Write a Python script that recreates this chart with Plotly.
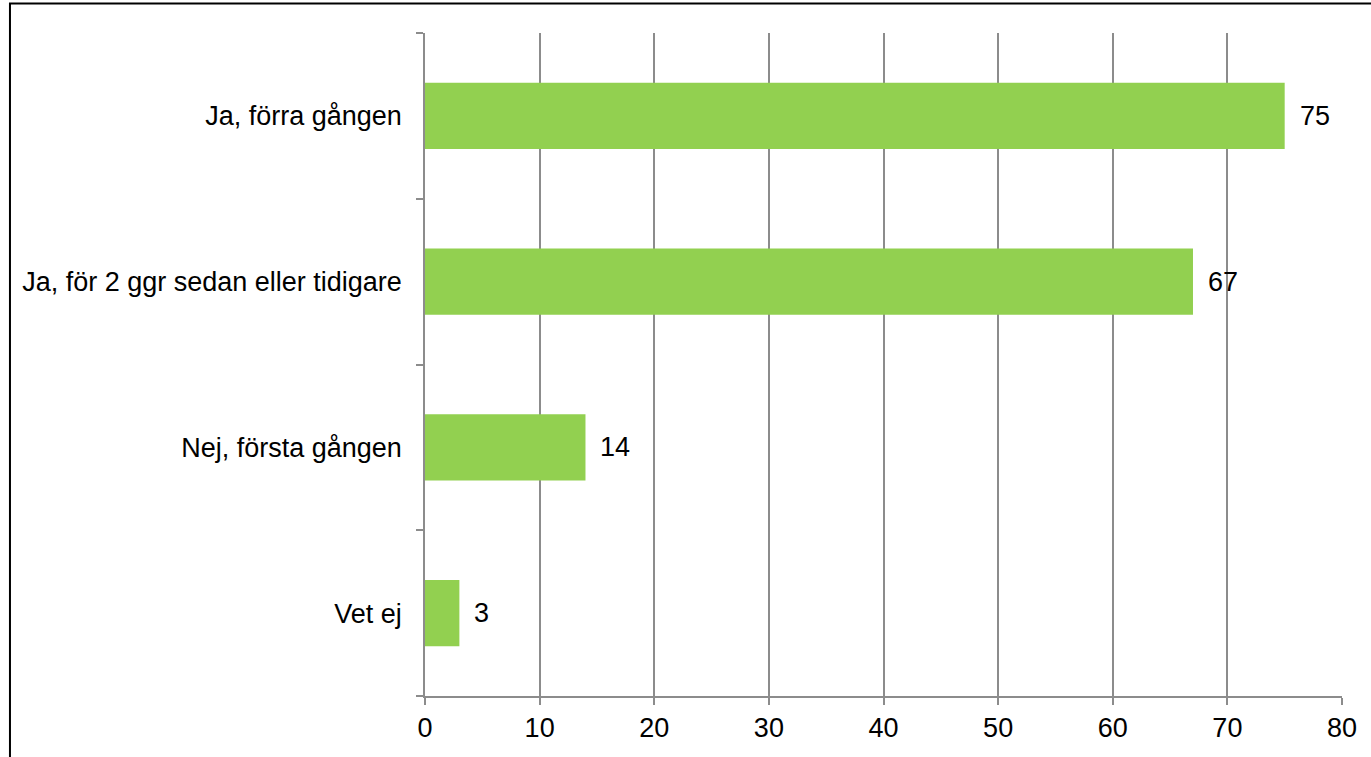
"""Horizontal bar chart: previous participation."""

import plotly.graph_objects as go

categories = [
    "Vet ej",
    "Nej, första gången",
    "Ja, för 2 ggr sedan eller tidigare",
    "Ja, förra gången",
]
values = [3, 14, 67, 75]
x_ticks = [0, 10, 20, 30, 40, 50, 60, 70, 80]

BAR_COLOR = "#92D050"
AXIS_GRAY = "#8c8c8c"
FONT = "Liberation Sans, Arial, sans-serif"
FONT_SIZE = 27

fig = go.Figure()

fig.add_trace(
    go.Bar(
        x=values,
        y=categories,
        orientation="h",
        width=0.4,
        marker=dict(color=BAR_COLOR, line=dict(width=0)),
        hoverinfo="x+y",
    )
)

# value labels a bit away from the bar ends
for cat, val in zip(categories, values):
    fig.add_annotation(
        x=val,
        y=cat,
        text=str(val),
        showarrow=False,
        xanchor="left",
        xshift=13,
        font=dict(size=FONT_SIZE, color="black", family=FONT),
    )

# outer frame (cut off at the right and bottom like the source)
fig.add_shape(
    type="rect",
    xref="paper",
    yref="paper",
    x0=-0.4526,
    x1=1.2,
    y0=-0.3,
    y1=1.0445,
    line=dict(color="black", width=2),
    fillcolor="rgba(0,0,0,0)",
    layer="below",
)

fig.update_layout(
    width=1371,
    height=757,
    margin=dict(l=425, r=29, t=33, b=61),
    plot_bgcolor="white",
    paper_bgcolor="white",
    showlegend=False,
    font=dict(family=FONT, size=FONT_SIZE, color="black"),
    xaxis=dict(
        range=[0, 80],
        tickvals=x_ticks,
        showgrid=True,
        gridcolor=AXIS_GRAY,
        gridwidth=1.5,
        showline=True,
        linecolor=AXIS_GRAY,
        linewidth=1.5,
        ticks="outside",
        ticklen=7,
        tickcolor=AXIS_GRAY,
        tickwidth=1.5,
        tickfont=dict(size=FONT_SIZE, color="black"),
        zeroline=False,
        fixedrange=True,
    ),
    yaxis=dict(
        type="category",
        categoryorder="array",
        categoryarray=categories,
        tickson="boundaries",
        showgrid=False,
        showline=True,
        linecolor=AXIS_GRAY,
        linewidth=1.5,
        ticks="outside",
        ticklen=7,
        tickcolor=AXIS_GRAY,
        tickwidth=1.5,
        ticklabelstandoff=16,
        tickfont=dict(size=FONT_SIZE, color="black"),
        zeroline=False,
        fixedrange=True,
    ),
)

# drop the default page margin so the figure sits at the window corner
fig.write_html(
    "out.html",
    config={"displayModeBar": False},
    post_script="document.body.style.margin = '0px';",
)
